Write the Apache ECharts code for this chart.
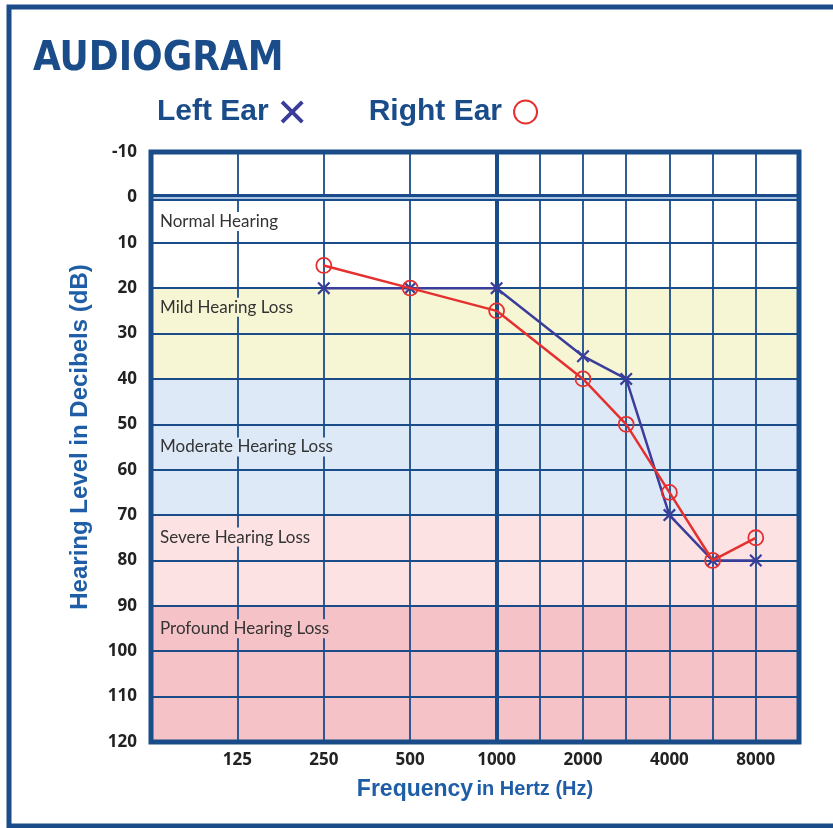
<!DOCTYPE html>
<html>
<head>
<meta charset="utf-8">
<title>Audiogram</title>
<script src="https://cdn.jsdelivr.net/npm/echarts@6/dist/echarts.min.js"></script>
<style>
    html, body { margin: 0; padding: 0; background: #fff; }
    #chart { width: 833px; height: 828px; }
</style>
</head>
<body>
<div id="chart"></div>
<script>
    // tested frequencies (Hz) and hearing levels (dB HL)
    var freqs = [250, 500, 1000, 2000, 3000, 4000, 6000, 8000];
    var leftEar = [20, 20, 20, 35, 40, 70, 80, 80];
    var rightEar = [15, 20, 25, 40, 50, 65, 80, 75];

    // octave tick labels and frequencies that get a grid line
    var octaveLabels = [125, 250, 500, 1000, 2000, 4000, 8000];
    var gridFreqs = [125, 250, 500, 1000, 1500, 2000, 3000, 4000, 6000, 8000];

    // hearing loss bands (dB)
    var bandNames = ['Normal Hearing', 'Mild Hearing Loss', 'Moderate Hearing Loss', 'Severe Hearing Loss', 'Profound Hearing Loss'];
    var bandFrom = [0, 20, 40, 70, 90];
    var bandTo = [20, 40, 70, 90, 120];

    var BLUE = '#1a4c8a';
    var NAME_BLUE = '#1f5ea6';
    var bandColors = ['#ffffff', '#f7f6d4', '#dde9f6', '#fce2e3', '#f5c3c7'];
    var bandLabelOffset = [24, 19, 68, 22, 23];
    var GRID = { left: 151, top: 152, width: 648, height: 590 };

    // audiogram x position: octaves above 125 Hz, linear inside an octave
    function octavePos(f) {
        var k = Math.floor(Math.log2(f / 125) + 1e-9);
        var base = 125 * Math.pow(2, k);
        return k + (f - base) / base;
    }

    var xPath = 'path://M0,1.2L1.2,0L5,3.8L8.8,0L10,1.2L6.2,5L10,8.8L8.8,10L5,6.2L1.2,10L0,8.8L3.8,5Z';

    var chart = echarts.init(document.getElementById('chart'));

    var gridLines = gridFreqs.map(function (f) {
        return {
            xAxis: octavePos(f),
            lineStyle: { color: BLUE, width: f === 1000 ? 4 : 1.8, type: 'solid' }
        };
    });
    gridLines.push({ yAxis: 0, lineStyle: { color: BLUE, width: 7, type: 'solid' } });
    gridLines.push({ yAxis: 0, lineStyle: { color: '#a9c4e2', width: 2, type: 'solid' } });

    function bandAreas(withLabels) {
        return bandNames.map(function (n, i) {
            return [
                {
                    name: n,
                    yAxis: bandFrom[i],
                    itemStyle: { color: withLabels ? 'rgba(0,0,0,0)' : bandColors[i] },
                    label: withLabels ? {
                        show: true,
                        position: [6, bandLabelOffset[i]],
                        verticalAlign: 'middle',
                        fontFamily: 'Lato', fontSize: 17, color: '#333',
                        backgroundColor: bandColors[i],
                        padding: [1, 3]
                    } : { show: false }
                },
                { yAxis: bandTo[i] }
            ];
        });
    }

    chart.setOption({
        animation: false,
        title: {
            text: 'AUDIOGRAM',
            left: 28,
            top: 35,
            textStyle: { fontFamily: 'DejaVu Sans Condensed', fontWeight: 'bold', fontSize: 40, color: BLUE }
        },
        legend: {
            left: 152,
            top: 92,
            itemGap: 65,
            align: 'right',
            itemWidth: 23,
            itemHeight: 23,
            textStyle: {
                fontFamily: 'Liberation Sans', fontWeight: 'bold', fontSize: 30, color: BLUE,
                padding: [0, 7, 0, 0]
            },
            data: [
                { name: 'Left Ear', icon: xPath, itemStyle: { color: '#3a3d9a', borderWidth: 0 } },
                { name: 'Right Ear', icon: 'circle', itemStyle: { color: 'rgba(0,0,0,0)', borderColor: '#e53030', borderWidth: 2 } }
            ]
        },
        grid: GRID,
        xAxis: {
            type: 'value',
            min: -1,
            max: 6.5,
            interval: 1,
            axisLine: { show: false },
            axisTick: { show: false },
            splitLine: { show: false },
            axisLabel: {
                margin: 10,
                fontFamily: 'Open Sans', fontWeight: 'bold', fontSize: 17, color: '#222',
                formatter: function (v) {
                    var i = Math.round(v);
                    if (Math.abs(v - i) > 1e-6 || i < 0 || i >= octaveLabels.length) return '';
                    return String(octaveLabels[i]);
                }
            },
            name: '{a|Frequency} {b|in Hertz (Hz)}',
            nameLocation: 'middle',
            nameGap: 36,
            nameTextStyle: {
                rich: {
                    a: { fontFamily: 'Liberation Sans', fontWeight: 'bold', fontSize: 23, color: NAME_BLUE },
                    b: { fontFamily: 'Liberation Sans', fontWeight: 'bold', fontSize: 20, color: NAME_BLUE }
                }
            }
        },
        yAxis: {
            type: 'value',
            inverse: true,
            min: -10,
            max: 120,
            interval: 10,
            z: 3,
            axisLine: { show: false },
            axisTick: { show: false },
            axisLabel: { margin: 14, fontFamily: 'Open Sans', fontWeight: 'bold', fontSize: 17, color: '#222' },
            splitLine: { lineStyle: { color: BLUE, width: 1.8 } },
            name: 'Hearing Level in Decibels (dB)',
            nameLocation: 'middle',
            nameRotate: 90,
            nameGap: 59,
            nameTextStyle: {
                fontFamily: 'Liberation Sans', fontWeight: 'bold', fontSize: 24, color: NAME_BLUE,
                padding: [0, 0, 0, 20]
            }
        },
        graphic: [
            {
                type: 'rect', z: 100, silent: true,
                shape: { x: GRID.left, y: GRID.top, width: GRID.width, height: GRID.height },
                style: { fill: null, stroke: BLUE, lineWidth: 5 }
            },
            {
                type: 'rect', z: 100, silent: true,
                shape: { x: 9, y: 7, width: 900, height: 819 },
                style: { fill: null, stroke: BLUE, lineWidth: 5 }
            }
        ],
        series: [
            {
                name: 'bands',
                type: 'line',
                z: 1,
                silent: true,
                data: [],
                markArea: { silent: true, z: 1, data: bandAreas(false) }
            },
            {
                name: 'gridlines',
                type: 'line',
                z: 4,
                silent: true,
                data: [],
                markLine: {
                    silent: true,
                    z: 4,
                    symbol: 'none',
                    label: { show: false },
                    emphasis: { disabled: true },
                    data: gridLines
                }
            },
            {
                name: 'bandLabels',
                type: 'line',
                z: 5,
                silent: true,
                data: [],
                markArea: { silent: true, z: 5, data: bandAreas(true) }
            },
            {
                name: 'Left Ear',
                type: 'line',
                z: 6,
                symbol: xPath,
                symbolSize: 13,
                data: freqs.map(function (f, i) { return [octavePos(f), leftEar[i]]; }),
                itemStyle: { color: '#3a3d9a' },
                lineStyle: { color: '#3a3d9a', width: 2.5 }
            },
            {
                name: 'Right Ear',
                type: 'line',
                z: 7,
                symbol: 'circle',
                symbolSize: 15,
                data: freqs.map(function (f, i) { return [octavePos(f), rightEar[i]]; }),
                itemStyle: { color: 'rgba(0,0,0,0)', borderColor: '#e53030', borderWidth: 1.8 },
                lineStyle: { color: '#e53030', width: 2.5 }
            }
        ]
    });
</script>
</body>
</html>
